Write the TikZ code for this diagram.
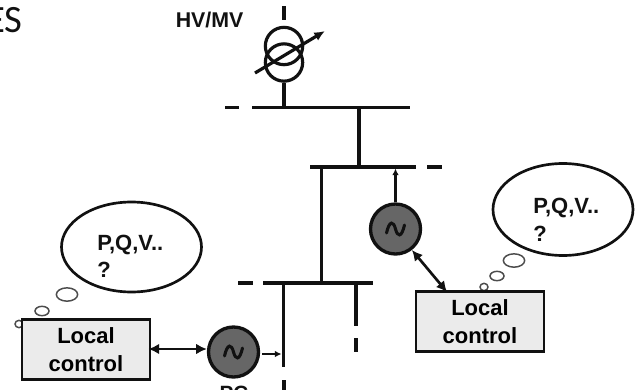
\documentclass[tikz,border=0pt]{standalone}
\usepackage{fontspec}
\setmainfont{Liberation Sans}
\newfontfamily\capfont{Carlito}
\usetikzlibrary{shapes.geometric,arrows.meta,calc}
\definecolor{genfill}{HTML}{666666}
\definecolor{boxfill}{HTML}{EBEBEB}
\definecolor{ink}{HTML}{111111}
\tikzset{
  x=0.75pt,y=-0.75pt,
  line/.style={draw=ink,line width=2.4pt},
  gen/.style={circle,draw=ink,line width=2.5pt,fill=genfill,minimum size=37.5pt,inner sep=0pt},
  ctrl/.style={rectangle,draw=ink,line width=1.7pt,fill=boxfill,minimum width=96.5pt,minimum height=45pt,inner sep=0pt,align=center,font=\bfseries\fontsize{16.5pt}{20.5pt}\selectfont},
  bubble/.style={ellipse,draw=ink,line width=2pt,fill=white,inner sep=0pt},
  puff/.style={ellipse,draw=ink!75,line width=1.1pt,fill=white,inner sep=0pt},
  lab/.style={font=\bfseries\fontsize{16.5pt}{20.5pt}\selectfont,inner sep=0pt},
  dbl/.style={draw=ink,line width=2pt,{Latex[length=8pt,width=8pt]}-{Latex[length=8pt,width=8pt]}},
  feed/.style={draw=ink,line width=2pt,-{Latex[length=5pt,width=5pt]}},
  sine/.pic={\draw[ink,line width=2.3pt,line cap=round] (-9,4) .. controls (-6,-9) and (-2,-8) .. (0,0) .. controls (2,8) and (6,9) .. (9,-4);}
}
\begin{document}
\begin{tikzpicture}
\useasboundingbox (0,0) rectangle (635,389);
\begin{scope}
\clip (0,0) rectangle (635,389);
\node[anchor=base east,inner sep=0pt,font=\capfont\fontsize{29pt}{33pt}\selectfont,text=ink] (es) at (23,32) {ES};
\node[anchor=base,lab,font=\bfseries\fontsize{15.5pt}{18pt}\selectfont,text=ink] (pc) at (234,400) {PC};
\draw[line] (284,380) coordinate (l1a) -- (284,392) coordinate (l1b);
\end{scope}
% transformer
\node[circle,draw=ink,line width=2.4pt,minimum size=28pt,inner sep=0pt] (t1) at (284,46) {};
\node[circle,draw=ink,line width=2.4pt,minimum size=28pt,inner sep=0pt] (t2) at (284,62.5) {};
\coordinate (tin) at (284,6);
\coordinate (tgap) at (284,20);
\coordinate (ta) at (255,73);
\coordinate (tb) at (325,31);
\draw[line] (tin) -- (tgap);
\draw[line,-{Latex[length=8pt,width=7pt]}] (ta) -- (tb);
\node[anchor=base west,inner sep=0pt,font=\bfseries\fontsize{16pt}{18pt}\selectfont,text=ink] (hv) at (175.5,27) {HV/MV};
% buses
\coordinate (b1l) at (252,107.5); \coordinate (b1r) at (410,107.5);
\coordinate (b1dl) at (225,107.5); \coordinate (b1dr) at (239,107.5);
\coordinate (b2l) at (310,167); \coordinate (b2r) at (416,167);
\coordinate (b2dl) at (427,167); \coordinate (b2dr) at (442,167);
\coordinate (b3l) at (263,283); \coordinate (b3r) at (373,283);
\coordinate (b3dl) at (238,283); \coordinate (b3dr) at (253,283);
\draw[line] (b1l) -- (b1r);
\draw[line] (b1dl) -- (b1dr);
\draw[line] (b2l) -- (b2r);
\draw[line] (b2dl) -- (b2dr);
\draw[line] (b3l) -- (b3r);
\draw[line] (b3dl) -- (b3dr);
\draw[line] (t2.south) -- (t2.south |- b1l);
\draw[line] (359,107.5) -- (359,167);
\draw[line] (321.5,167) -- (321.5,283);
\draw[line] (283.5,283) -- (283.5,367);
\draw[line] (356,283) -- (356,326);
\draw[line] (356,338) -- (356,352);
% generators
\node[gen] (g1) at (233.5,352) {};
\node[gen] (g2) at (395.5,229) {};
\pic at (g1) {sine};
\pic at (g2) {sine};
\coordinate (g1o) at (281.5,354);
\coordinate (g2o) at (395.5,168.5);
\draw[feed] (g1.east |- g1o) ++(2,0) -- (g1o);
\draw[feed] (g2.north) -- (g2o);
% thought bubbles
\node[puff,minimum width=6pt,minimum height=5.5pt] (p13) at (19,324) {};
\node[puff,minimum width=6pt,minimum height=5.5pt] (p23) at (484,287) {};
\node[ctrl] (c1) at (86,349.5) {Local\\control};
\node[ctrl] (c2) at (480,321.5) {Local\\control};
\node[puff,minimum width=16pt,minimum height=10pt] (p11) at (67,294.5) {};
\node[puff,minimum width=10.5pt,minimum height=7pt] (p12) at (42,311) {};
\node[puff,minimum width=16pt,minimum height=10pt] (p21) at (514,260.5) {};
\node[puff,minimum width=10.5pt,minimum height=7pt] (p22) at (497,276) {};
\node[bubble,minimum width=105pt,minimum height=67.5pt] (e1) at (131.5,247) {};
\node[bubble,minimum width=105pt,minimum height=69pt] (e2) at (563,209.5) {};
\node[lab,anchor=base west,text=ink] (e1a) at (97,250) {P,Q,V..};
\node[lab,anchor=base west,text=ink] (e1b) at (97,277) {?};
\node[lab,anchor=base west,text=ink] (e2a) at (533,213) {P,Q,V..};
\node[lab,anchor=base west,text=ink] (e2b) at (533,241.5) {?};
% control links
\draw[dbl] (c1.east |- g1.west) ++(-3,-3) -- ($(g1.west)+(0,-3)$);
\coordinate (c2t) at (447,292);
\draw[dbl] (c2t) -- (g2.-52);
\end{tikzpicture}
\end{document}
